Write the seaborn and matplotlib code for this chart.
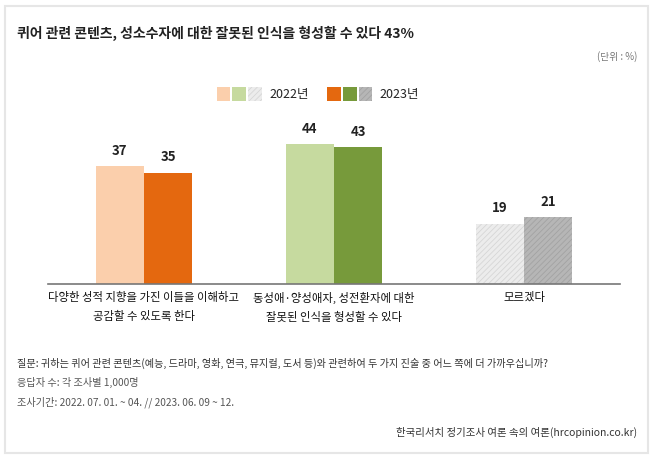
import pandas as pd
import numpy as np
import seaborn as sns
import matplotlib.pyplot as plt
from matplotlib.patches import Patch, Rectangle
from matplotlib.legend_handler import HandlerTuple

sns.set_style('white')
plt.rcParams['font.family'] = ['Noto Sans CJK KR', 'DejaVu Sans']
plt.rcParams['hatch.linewidth'] = 0.6

# 데이터
items = ['다양한 성적 지향을 가진 이들을 이해하고\n공감할 수 있도록 한다',
         '동성애·양성애자, 성전환자에 대한\n잘못된 인식을 형성할 수 있다',
         '모르겠다']
years = ['2022년', '2023년']
val_2022 = [37, 44, 19]
val_2023 = [35, 43, 21]
colors_2022 = ['#fbcfac', '#c6da9f', '#ececec']
colors_2023 = ['#e4680f', '#779a3b', '#b6b6b6']
hatch_2022 = ['', '', '//////']
hatch_2023 = ['', '', '//////']
hatchcol_2022 = ['#fbcfac', '#c6da9f', '#d6d6d6']
hatchcol_2023 = ['#e4680f', '#779a3b', '#a2a2a2']

df = pd.DataFrame({
    'item': items * 2,
    'year': [years[0]] * 3 + [years[1]] * 3,
    'val': val_2022 + val_2023,
})

fig = plt.figure(figsize=(6.54, 4.59), dpi=100)
ax = fig.add_axes([48 / 654, 1 - 284 / 459, 572 / 654, 175 / 459])

sns.barplot(data=df, x='item', y='val', hue='year', width=0.506,
            dodge=True, legend=False, ax=ax, saturation=1)

bars = sorted(ax.patches, key=lambda p: p.get_x())
cols = [c for pair in zip(colors_2022, colors_2023) for c in pair]
hcols = [c for pair in zip(hatchcol_2022, hatchcol_2023) for c in pair]
hats = [h for pair in zip(hatch_2022, hatch_2023) for h in pair]
for p, c, hc, h in zip(bars, cols, hcols, hats):
    p.set_facecolor(c)
    p.set_edgecolor(hc)
    p.set_linewidth(0)
    p.set_hatch(h)

for cont in ax.containers:
    ax.bar_label(cont, fmt='%d', padding=6, fontsize=9.5, fontweight='bold', color='#222222')

ax.set_xlim(-0.505, 2.505)
ax.set_ylim(0, 55)
ax.set_xlabel('')
ax.set_ylabel('')
ax.set_yticks([])
for s in ['top', 'right', 'left']:
    ax.spines[s].set_visible(False)
ax.spines['bottom'].set_color('#777777')
ax.spines['bottom'].set_linewidth(1.2)
ax.tick_params(axis='x', length=0, pad=6, labelsize=8.2, labelcolor='#111111')
for t in ax.get_xticklabels():
    t.set_fontweight('medium')
    t.set_linespacing(1.8)

# 범례
h22 = tuple(Patch(facecolor=c, edgecolor=hc, hatch=h, linewidth=0)
            for c, hc, h in zip(colors_2022, hatchcol_2022, hatch_2022))
h23 = tuple(Patch(facecolor=c, edgecolor=hc, hatch=h, linewidth=0)
            for c, hc, h in zip(colors_2023, hatchcol_2023, hatch_2023))
fig.legend([h22, h23], years, handler_map={tuple: HandlerTuple(ndivide=None, pad=0.15)},
           loc='center', bbox_to_anchor=(318 / 654, 1 - 94 / 459), ncol=2, frameon=False,
           fontsize=9, handlelength=3.6, handleheight=1.3, handletextpad=0.6,
           columnspacing=1.5, labelcolor='#222222')

# 테두리 및 텍스트
fig.patches.append(Rectangle((5 / 654, 6 / 459), 643 / 654, 447 / 459, transform=fig.transFigure,
                             fill=False, edgecolor='#e6e6e6', linewidth=1.5))
fig.text(17 / 654, 1 - 33 / 459, '퀴어 관련 콘텐츠, 성소수자에 대한 잘못된 인식을 형성할 수 있다 43%',
         fontsize=10, fontweight='bold', color='#222222', va='center')
fig.text(637 / 654, 1 - 57 / 459, '(단위 : %)', fontsize=7, color='#777777', va='center', ha='right')
fig.text(17 / 654, 1 - 363 / 459,
         '질문: 귀하는 퀴어 관련 콘텐츠(예능, 드라마, 영화, 연극, 뮤지컬, 도서 등)와 관련하여 두 가지 진술 중 어느 쪽에 더 가까우십니까?',
         fontsize=7.3, color='#333333', va='center')
fig.text(17 / 654, 1 - 382 / 459, '응답자 수: 각 조사별 1,000명', fontsize=7.3, color='#555555', va='center')
fig.text(17 / 654, 1 - 402 / 459, '조사기간: 2022. 07. 01. ~ 04. // 2023. 06. 09 ~ 12.',
         fontsize=7.3, color='#555555', va='center')
fig.text(637 / 654, 1 - 432 / 459, '한국리서치 정기조사 여론 속의 여론(hrcopinion.co.kr)',
         fontsize=7.5, color='#333333', va='center', ha='right')

fig.savefig('out.png', dpi=100)
